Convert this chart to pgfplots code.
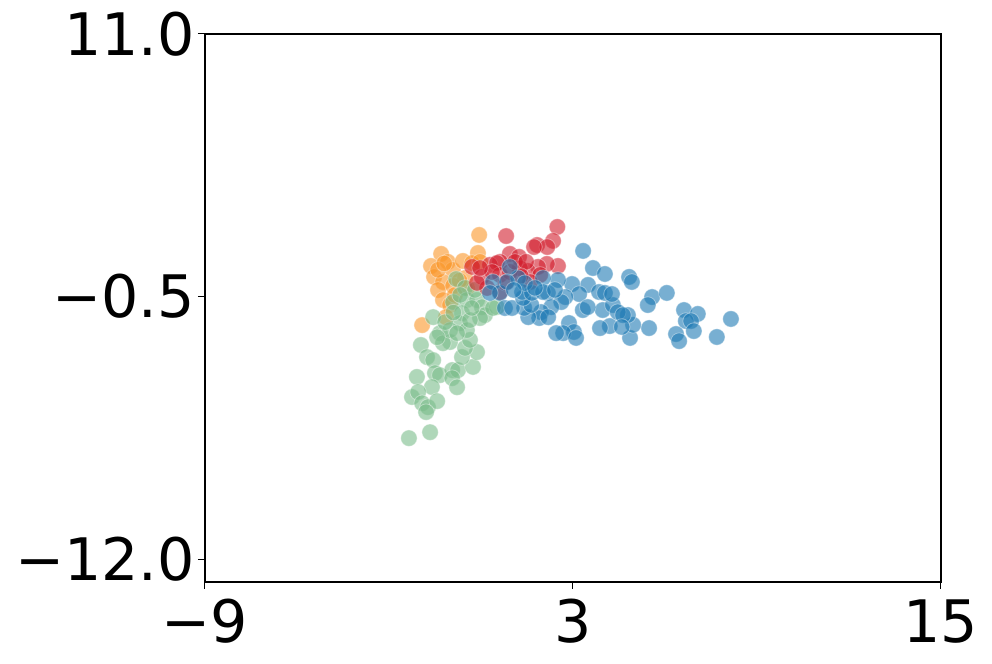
\documentclass[border=0pt]{standalone}
\usepackage{pgfplots}
\pgfplotsset{compat=1.18}
\usepackage{fontspec}
\setmainfont{DejaVu Sans}

\definecolor{cred}{RGB}{210,30,45}
\definecolor{corange}{RGB}{250,150,40}
\definecolor{cgreen}{RGB}{122,188,138}
\definecolor{cblue}{RGB}{30,122,180}

\pgfplotsset{
  dot/.style={only marks, mark=*, mark size=4.1pt,
    mark options={fill=#1, draw=white, fill opacity=0.6, draw opacity=0.4, line width=0.4pt}},
}

\begin{document}
\begin{tikzpicture}
\begin{axis}[
  scale only axis,
  width=368pt, height=274pt,
  xmin=-9, xmax=15, ymin=-13, ymax=11,
  xtick={-9,3,15}, xticklabels={−9,3,15},
  ytick={11,-0.5,-12}, yticklabels={11.0,−0.5,−12.0},
  tick align=outside, xtick pos=left, ytick pos=left,
  major tick length=3.5pt,
  tick style={line width=0.5pt, black},
  axis line style={line width=0.6pt},
  ticklabel style={font=\fontsize{29.3}{35}\selectfont, inner sep=0pt},
  xticklabel style={anchor=north, yshift=-5pt},
  yticklabel style={anchor=east, xshift=-1.5pt},
]
\addplot[dot=corange] table {
x y
-0.06 2.20
-1.30 1.37
-1.63 0.84
-1.08 1.02
-1.53 0.36
-0.92 0.67
-0.59 1.06
-0.10 1.41
-0.29 0.97
-0.03 1.02
-1.24 0.14
-1.40 -0.21
-1.24 -0.65
-1.01 -0.87
-0.52 0.31
-0.46 -0.12
-1.92 -1.75
-1.14 -1.40
-0.91 -0.03
-1.40 0.67
-0.85 -0.43
-1.20 0.95
-0.70 0.20
};
\addplot[dot=cgreen] table {
x y
-0.81 0.27
-0.52 -0.12
-0.91 -0.74
-0.46 -0.65
-0.13 -0.65
0.03 -0.96
-0.62 -1.22
-1.56 -1.40
0.13 -1.31
0.52 -0.96
-1.96 -2.62
-1.76 -3.15
-1.34 -2.10
-1.01 -2.49
-1.24 -2.54
-1.56 -3.28
-1.50 -3.85
-1.34 -3.94
-0.94 -3.72
-0.75 -3.72
-0.26 -3.58
-0.13 -2.93
-0.62 -3.15
-0.52 -2.75
-0.36 -2.40
-0.94 -4.07
-0.78 -4.47
-2.09 -4.02
-1.60 -4.46
-2.25 -4.90
-2.05 -4.68
-1.92 -5.17
-1.73 -5.34
-1.43 -5.08
-1.79 -5.56
-2.35 -6.70
-1.66 -6.44
-0.69 -1.66
-0.46 -1.97
-0.03 -1.44
-1.01 -1.97
-0.78 -2.10
-1.43 -2.28
0.39 -1.00
-1.17 -1.62
-0.36 -1.53
-0.20 -0.21
-0.68 -0.43
-0.90 -1.20
-0.30 -1.00
};
\addplot[dot=cred] table {
x y
2.49 2.55
0.82 2.15
2.35 1.94
1.83 1.76
2.16 1.67
1.73 1.67
0.94 1.37
1.24 1.24
2.51 0.84
2.15 0.93
1.86 0.80
1.53 0.62
1.27 0.75
0.62 1.02
1.93 0.45
-0.29 0.80
0.29 0.89
0.52 0.97
0.03 0.36
0.20 -0.12
0.62 0.45
-0.13 0.10
0.62 -0.30
1.60 0.14
0.94 0.58
1.11 1.02
0.36 0.58
1.47 1.02
-0.03 0.75
0.80 0.10
1.30 0.40
};
\addplot[dot=cblue] table {
x y
3.33 1.50
3.65 0.75
4.04 0.49
3.49 0.01
2.97 0.05
2.51 0.23
3.20 -0.39
2.75 -0.52
3.85 -0.30
2.02 0.31
1.21 0.31
0.94 0.80
2.18 -0.34
4.83 0.36
4.92 0.14
5.58 -0.52
6.06 -0.34
5.44 -0.87
6.62 -1.09
7.07 -1.26
8.15 -1.48
6.68 -1.57
6.85 -1.57
6.94 -2.01
6.36 -2.14
6.46 -2.45
7.69 -2.27
5.48 -1.88
4.86 -2.31
4.96 -1.74
4.79 -1.31
4.20 -1.79
3.97 -1.09
4.30 -0.87
4.46 -1.18
4.04 -0.34
4.27 -0.39
4.63 -1.31
4.59 -1.83
3.88 -1.88
0.39 0.14
0.62 -0.34
0.78 -1.00
0.85 0.14
2.62 -0.74
2.29 -0.96
1.96 -1.18
1.90 -1.44
1.54 -1.40
1.41 -1.00
1.64 -0.87
2.19 -1.40
2.87 -1.66
3.03 -2.05
2.68 -2.10
2.45 -2.10
3.10 -2.31
3.32 -1.09
3.48 -0.96
1.01 -1.00
1.37 -0.56
1.34 -0.30
1.66 -0.34
2.02 -0.30
0.29 -0.34
1.43 0.09
1.76 -0.12
2.41 -0.21
1.07 -0.21
};
\end{axis}
\path (current axis.south west) ++(-102.5pt,-41pt) rectangle ([shift={(25.5pt,17pt)}]current axis.north east);
\end{tikzpicture}
\end{document}
